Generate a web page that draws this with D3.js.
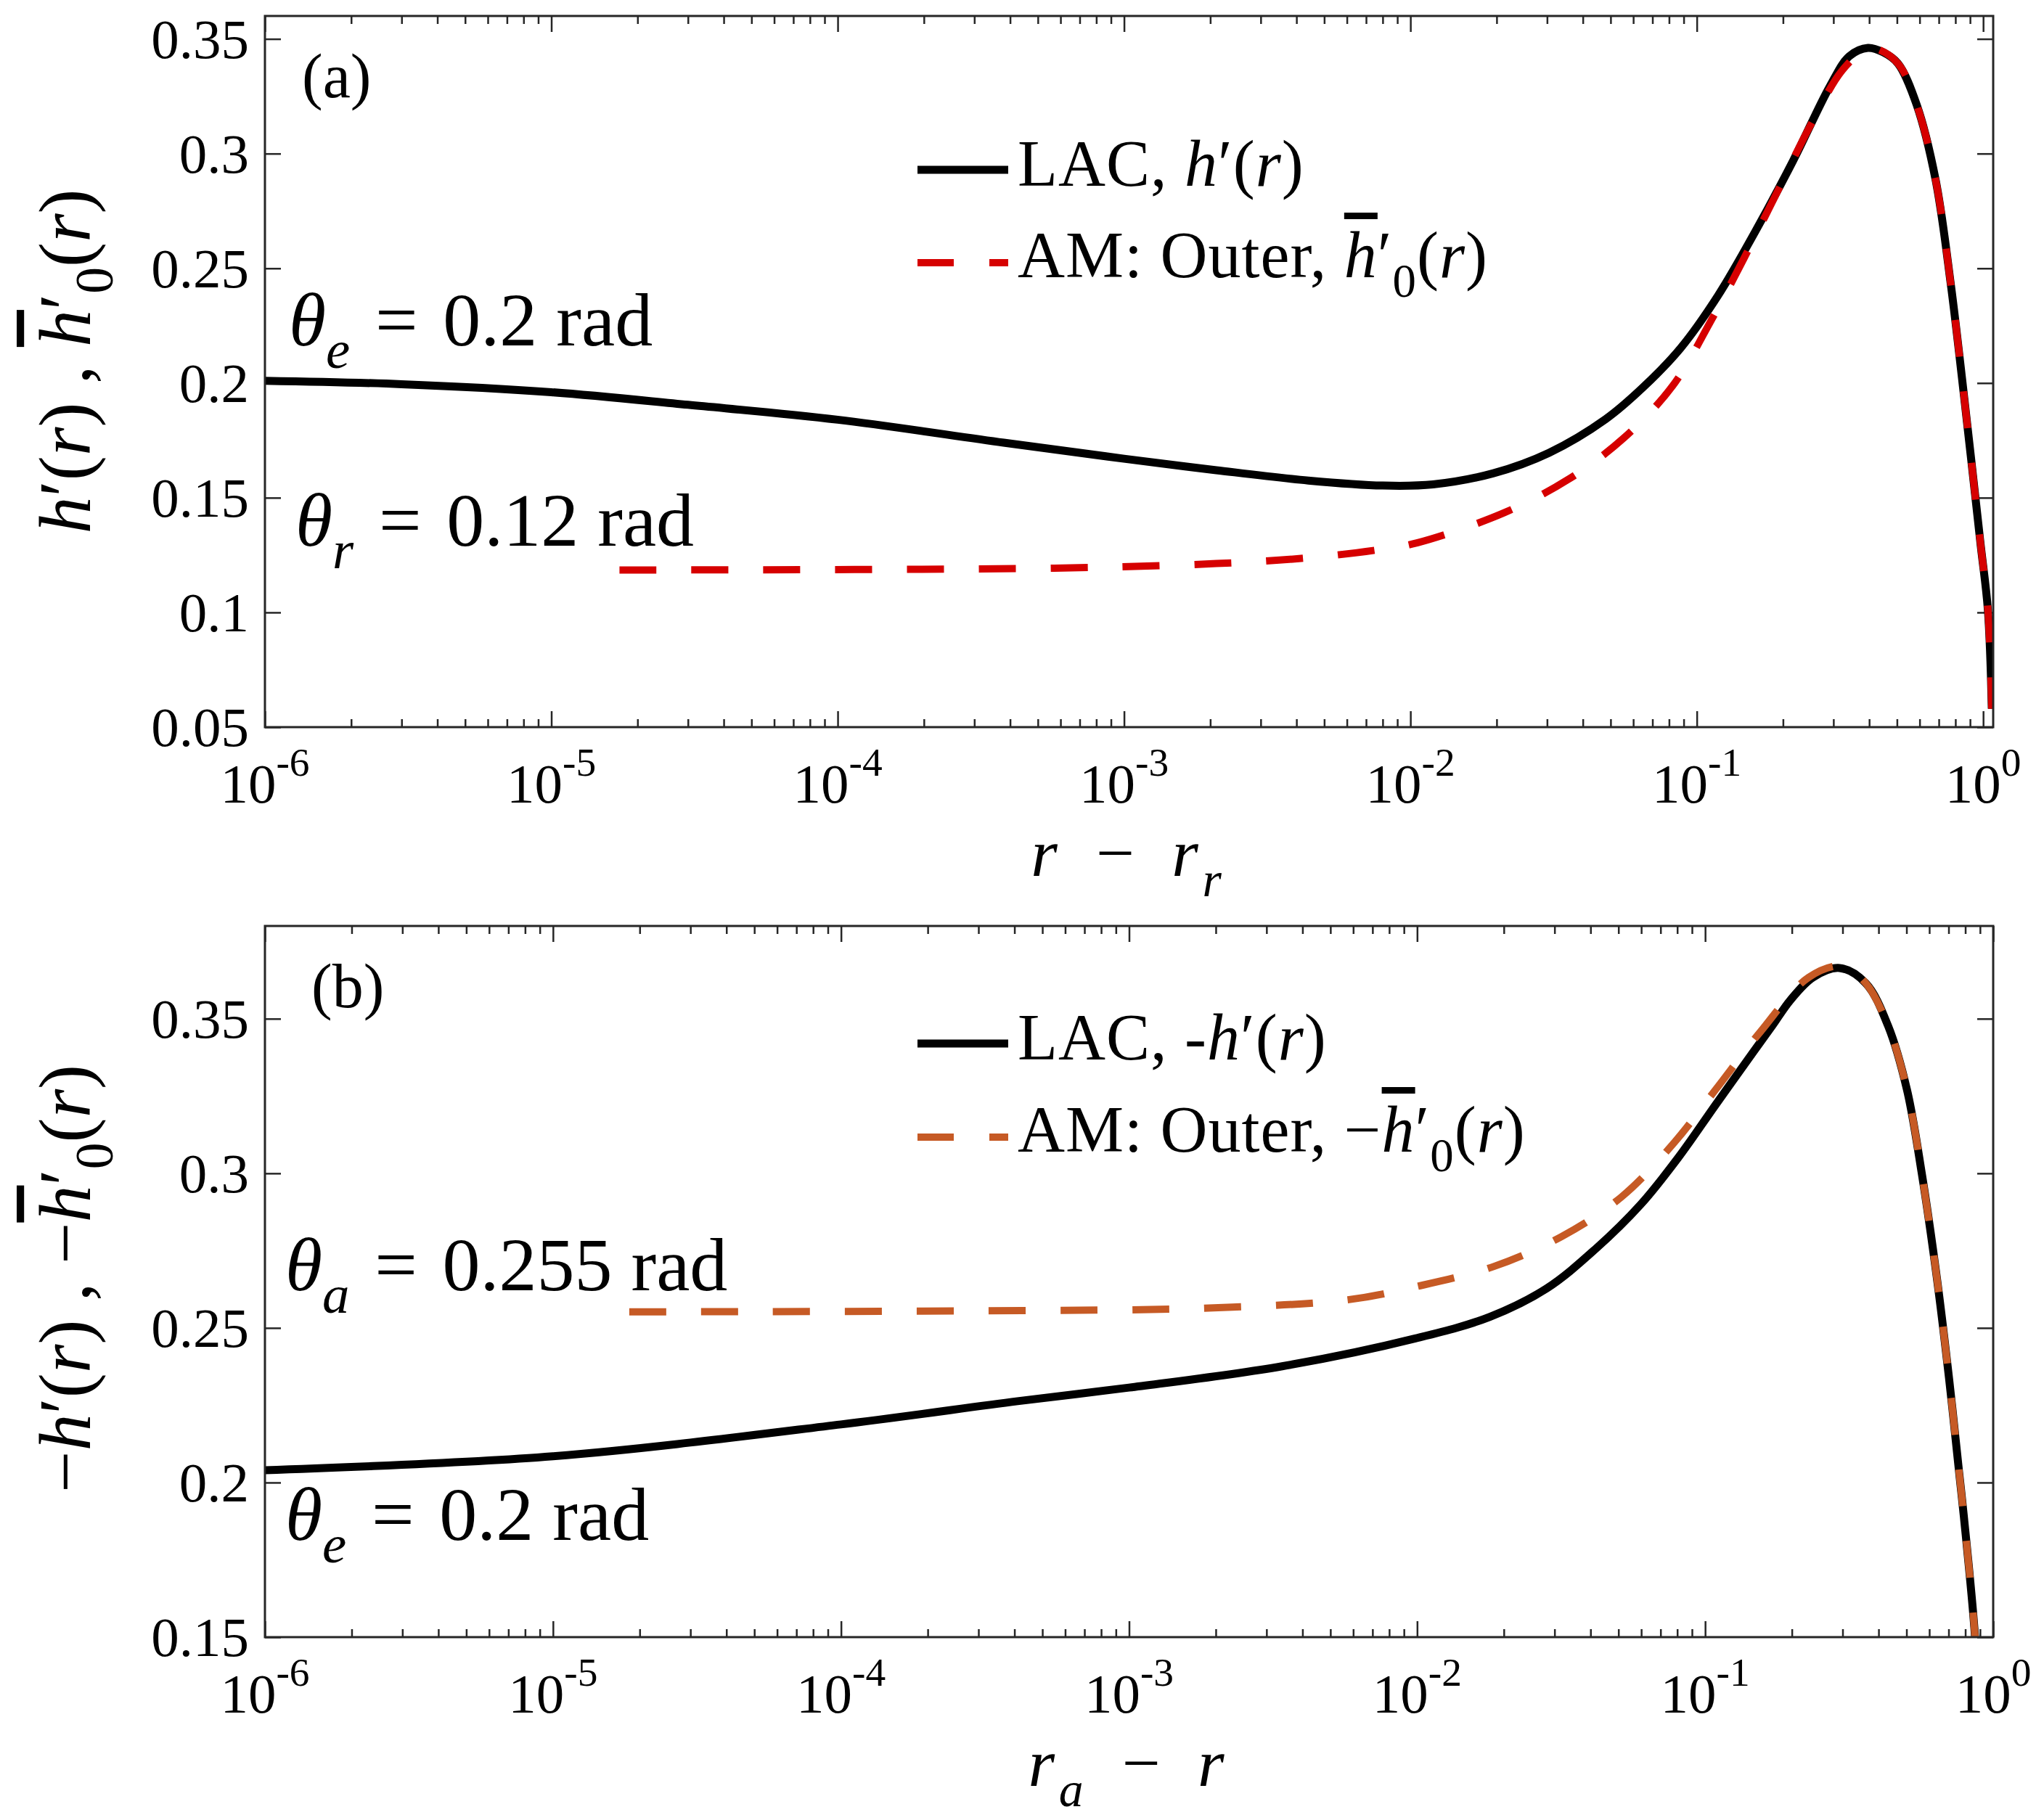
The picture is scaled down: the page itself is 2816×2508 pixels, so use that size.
<!DOCTYPE html>
<html>
<head>
<meta charset="utf-8">
<script src="https://cdn.jsdelivr.net/npm/d3@7/dist/d3.min.js"></script>
<style>
  body { margin: 0; background: #fff; }
  svg { display: block; }
  text { font-family: "Liberation Serif", "Times New Roman", serif; fill: #000; }
</style>
</head>
<body>
<div id="chart"></div>
<script>
// ---- data ----
var xTickExps = [-6, -5, -4, -3, -2, -1, 0];
var aYTicks = [0.05, 0.1, 0.15, 0.2, 0.25, 0.3, 0.35];
var bYTicks = [0.15, 0.2, 0.25, 0.3, 0.35];

// panel (a): LAC h'(r) against r - r_r
var aLacR = [1e-6, 3e-6, 1e-5, 3e-5, 1e-4, 3.8e-4, 1e-3, 2.1e-3, 4.4e-3, 8e-3, 1.2e-2, 1.94e-2, 3.05e-2, 4.8e-2, 6.49e-2, 8.79e-2, 0.1186, 0.160, 0.217, 0.292, 0.341, 0.396, 0.447, 0.504, 0.586, 0.682, 0.771, 0.867, 0.979, 1.039, 1.072];
var aLacH = [0.201, 0.1995, 0.196, 0.1905, 0.184, 0.174, 0.167, 0.162, 0.1575, 0.1553, 0.1558, 0.1606, 0.1696, 0.1842, 0.1981, 0.2153, 0.2381, 0.266, 0.2969, 0.3295, 0.3425, 0.3461, 0.3442, 0.3393, 0.3213, 0.2887, 0.243, 0.189, 0.130, 0.101, 0.058];
// panel (a): AM outer h0bar'(r)
var aOuterR = [1.73e-5, 5.7e-4, 2.1e-3, 4.4e-3, 7.9e-3, 1.06e-2, 2.13e-2, 3.56e-2, 5.58e-2, 8.26e-2, 0.1117, 0.1462, 0.1919, 0.2512, 0.3206, 0.3846, 0.42, 0.504, 0.586, 0.682, 0.771, 0.867, 0.979, 1.039, 1.072];
var aOuterH = [0.1185, 0.1193, 0.1213, 0.1238, 0.1275, 0.1304, 0.1435, 0.158, 0.1762, 0.199, 0.2268, 0.2544, 0.2838, 0.3131, 0.336, 0.345, 0.3458, 0.3393, 0.3213, 0.2887, 0.243, 0.189, 0.130, 0.101, 0.058];

// panel (b): LAC -h'(r) against r_a - r
var bLacR = [1e-6, 1e-5, 1e-4, 4.1e-4, 1e-3, 3.4e-3, 9.86e-3, 1.79e-2, 2.82e-2, 4.16e-2, 5.97e-2, 8.07e-2, 0.1086, 0.1466, 0.1706, 0.198, 0.237, 0.293, 0.361, 0.432, 0.502, 0.565, 0.637, 0.703, 0.762, 0.791, 0.865, 0.895];
var bLacH = [0.204, 0.2085, 0.2188, 0.2263, 0.2307, 0.2376, 0.2466, 0.2536, 0.2628, 0.2755, 0.2899, 0.3051, 0.3221, 0.3391, 0.3476, 0.3561, 0.3634, 0.3664, 0.3615, 0.3476, 0.327, 0.300, 0.2664, 0.2335, 0.2031, 0.189, 0.15, 0.12];
// panel (b): AM outer -h0bar'(r)
var bOuterR = [1.84e-5, 4.26e-4, 1.82e-3, 5.75e-3, 9.86e-3, 1.85e-2, 3.18e-2, 5.13e-2, 7.82e-2, 0.1086, 0.1556, 0.229, 0.301, 0.361, 0.432, 0.502, 0.565, 0.637, 0.703, 0.762, 0.791, 0.865, 0.895];
var bOuterH = [0.2552, 0.2556, 0.2564, 0.2591, 0.2633, 0.2699, 0.2796, 0.2924, 0.310, 0.327, 0.3458, 0.3634, 0.367, 0.3615, 0.3476, 0.327, 0.300, 0.2664, 0.2335, 0.2031, 0.189, 0.15, 0.12];

// ---- layout ----
var W = 2816, H = 2508;
var left = 365, right = 2746;
var axisColor = "#262626";

var svg = d3.select("#chart").append("svg")
  .attr("width", W).attr("height", H)
  .attr("viewBox", "0 0 " + W + " " + H);
svg.append("rect").attr("width", W).attr("height", H).attr("fill", "#fff");

// write a string made of styled pieces (italic, sub, sup, overline)
function rich(t, parts, base) {
  var off = 0;
  parts.forEach(function(p) {
    var s = t.append("tspan").text(p.t);
    var want = p.sub ? 0.3 * base : (p.sup ? -0.48 * base : 0);
    s.attr("dy", want - off);
    off = want;
    if (p.sub || p.sup) s.attr("font-size", 0.72 * base);
    if (p.it) s.attr("font-style", "italic");
    if (p.over) s.attr("text-decoration", "overline");
    if (p.dx) s.attr("dx", p.dx * base);
  });
  return t;
}

function drawPanel(o) {
  var g = svg.append("g");
  var x = d3.scaleLog().domain(o.xDomain).range([left, right]);
  var y = d3.scaleLinear().domain(o.yDomain).range([o.bottom, o.top]);

  var clipId = "clip-" + o.id;
  svg.append("clipPath").attr("id", clipId)
    .append("rect")
    .attr("x", left).attr("y", o.top)
    .attr("width", right - left).attr("height", o.bottom - o.top);

  // minor ticks 2..9 per decade
  var minor = [];
  for (var e = -6; e <= 0; e++) {
    for (var m = 2; m <= 9; m++) {
      var v = m * Math.pow(10, e);
      if (v > o.xDomain[0] && v < o.xDomain[1]) minor.push(v);
    }
  }
  var major = xTickExps.map(function(e) { return Math.pow(10, e); });

  function styleAxis(sel) {
    sel.select(".domain").remove();
    sel.selectAll("line").attr("stroke", axisColor).attr("stroke-width", 2.5);
    sel.selectAll("text").remove();
  }

  g.append("g").attr("transform", "translate(0," + o.bottom + ")")
    .call(d3.axisBottom(x).tickValues(major).tickSize(-22)).call(styleAxis);
  g.append("g").attr("transform", "translate(0," + o.bottom + ")")
    .call(d3.axisBottom(x).tickValues(minor).tickSize(-11)).call(styleAxis);
  g.append("g").attr("transform", "translate(0," + o.top + ")")
    .call(d3.axisTop(x).tickValues(major).tickSize(-22)).call(styleAxis);
  g.append("g").attr("transform", "translate(0," + o.top + ")")
    .call(d3.axisTop(x).tickValues(minor).tickSize(-11)).call(styleAxis);
  g.append("g").attr("transform", "translate(" + left + ",0)")
    .call(d3.axisLeft(y).tickValues(o.yTicks).tickSize(-22)).call(styleAxis);
  g.append("g").attr("transform", "translate(" + right + ",0)")
    .call(d3.axisRight(y).tickValues(o.yTicks).tickSize(-22)).call(styleAxis);

  // tick labels
  g.selectAll(".ylab").data(o.yTicks).enter().append("text")
    .attr("x", left - 22).attr("y", function(d) { return y(d); })
    .attr("dy", "0.34em")
    .attr("text-anchor", "end")
    .attr("font-size", 77)
    .attr("fill", axisColor)
    .text(function(d) { return String(d); });

  g.selectAll(".xlab").data(xTickExps).enter().append("text")
    .attr("x", function(d) { return x(Math.pow(10, d)); })
    .attr("y", o.bottom + 104)
    .attr("text-anchor", "middle")
    .attr("font-size", 77)
    .attr("fill", axisColor)
    .each(function(d) {
      rich(d3.select(this), [{ t: "10" }, { t: String(d), sup: true }], 77);
    });

  // curves
  var line = d3.line()
    .x(function(d) { return x(d[0]); })
    .y(function(d) { return y(d[1]); })
    .curve(d3.curveCatmullRom.alpha(0.5));

  var plot = g.append("g").attr("clip-path", "url(#" + clipId + ")");
  plot.append("path")
    .datum(d3.zip(o.lacR, o.lacH))
    .attr("d", line)
    .attr("fill", "none").attr("stroke", "#000").attr("stroke-width", 11)
    .attr("stroke-linejoin", "round");
  plot.append("path")
    .datum(d3.zip(o.outR, o.outH))
    .attr("d", line)
    .attr("fill", "none").attr("stroke", o.dashColor).attr("stroke-width", 10)
    .attr("stroke-dasharray", "51,48");

  // frame
  g.append("rect")
    .attr("x", left).attr("y", o.top)
    .attr("width", right - left).attr("height", o.bottom - o.top)
    .attr("fill", "none").attr("stroke", axisColor).attr("stroke-width", 3);

  // panel letter
  g.append("text").attr("x", o.letterX).attr("y", o.top + 112)
    .attr("font-size", 86).text(o.letter);

  // legend
  var ly1 = o.top + o.leg1, ly2 = o.top + o.leg2;
  g.append("line").attr("x1", 1264).attr("x2", 1389).attr("y1", ly1).attr("y2", ly1)
    .attr("stroke", "#000").attr("stroke-width", 11);
  g.append("line").attr("x1", 1264).attr("x2", 1389).attr("y1", ly2).attr("y2", ly2)
    .attr("stroke", o.dashColor).attr("stroke-width", 10).attr("stroke-dasharray", "50,49");
  rich(g.append("text").attr("x", 1402).attr("y", ly1 + 22).attr("font-size", 90).attr("letter-spacing", 1), o.legText1, 90);
  rich(g.append("text").attr("x", 1402).attr("y", ly2 + 20).attr("font-size", 90).attr("letter-spacing", 1), o.legText2, 90);

  // annotations
  o.notes.forEach(function(n) {
    rich(g.append("text").attr("x", n.x).attr("y", o.top + n.dy).attr("font-size", 104), n.parts, 104);
  });

  // axis labels
  rich(g.append("text")
    .attr("transform", "translate(124," + (o.top + o.yLabelMid) + ") rotate(-90)")
    .attr("text-anchor", "middle").attr("font-size", 102), o.yLabel, 102);
  rich(g.append("text")
    .attr("x", (left + right) / 2 - 4).attr("y", o.bottom + 205)
    .attr("text-anchor", "middle").attr("font-size", 94), o.xLabel, 94);
}

var eq = "\u2004=\u2004";
var hPrime = [{ t: "h", it: true }, { t: "\u2032" }, { t: "(" }, { t: "r", it: true }, { t: ")" }];
var hBarPrime = [{ t: "h", it: true, over: true }, { t: "\u2032" }, { t: "0", sub: true }, { t: "(" }, { t: "r", it: true }, { t: ")" }];

drawPanel({
  id: "a", top: 22, bottom: 1002,
  xDomain: [1e-6, 1.084], yDomain: [0.05, 0.36], yTicks: aYTicks,
  lacR: aLacR, lacH: aLacH, outR: aOuterR, outH: aOuterH,
  dashColor: "#d60000",
  letter: "(a)", letterX: 416,
  leg1: 212, leg2: 340,
  legText1: [{ t: "LAC, " }].concat(hPrime),
  legText2: [{ t: "AM: Outer, " }].concat(hBarPrime),
  notes: [
    { x: 398, dy: 454, parts: [{ t: "\u03b8", it: true }, { t: "e", it: true, sub: true }, { t: eq + "0.2 rad" }] },
    { x: 407, dy: 730, parts: [{ t: "\u03b8", it: true }, { t: "r", it: true, sub: true }, { t: eq + "0.12 rad" }] }
  ],
  yLabelMid: 476,
  yLabel: hPrime.concat([{ t: " , " }]).concat(hBarPrime),
  xLabel: [{ t: "r\u2002\u2212\u2002r", it: true }, { t: "r", it: true, sub: true, dx: 0.06 }]
});

drawPanel({
  id: "b", top: 1276, bottom: 2256,
  xDomain: [1e-6, 1], yDomain: [0.15, 0.38], yTicks: bYTicks,
  lacR: bLacR, lacH: bLacH, outR: bOuterR, outH: bOuterH,
  dashColor: "#c65a25",
  letter: "(b)", letterX: 429,
  leg1: 162, leg2: 291,
  legText1: [{ t: "LAC, -" }].concat(hPrime),
  legText2: [{ t: "AM: Outer, \u2212" }].concat(hBarPrime),
  notes: [
    { x: 393, dy: 502, parts: [{ t: "\u03b8", it: true }, { t: "a", it: true, sub: true }, { t: eq + "0.255 rad" }] },
    { x: 393, dy: 846, parts: [{ t: "\u03b8", it: true }, { t: "e", it: true, sub: true }, { t: eq + "0.2 rad" }] }
  ],
  yLabelMid: 486,
  yLabel: [{ t: "\u2212" }].concat(hPrime).concat([{ t: " , \u2212" }]).concat(hBarPrime),
  xLabel: [{ t: "r", it: true }, { t: "a", it: true, sub: true, dx: 0.06 }, { t: "\u2002\u2212\u2002r", it: true }]
});
</script>
</body>
</html>
